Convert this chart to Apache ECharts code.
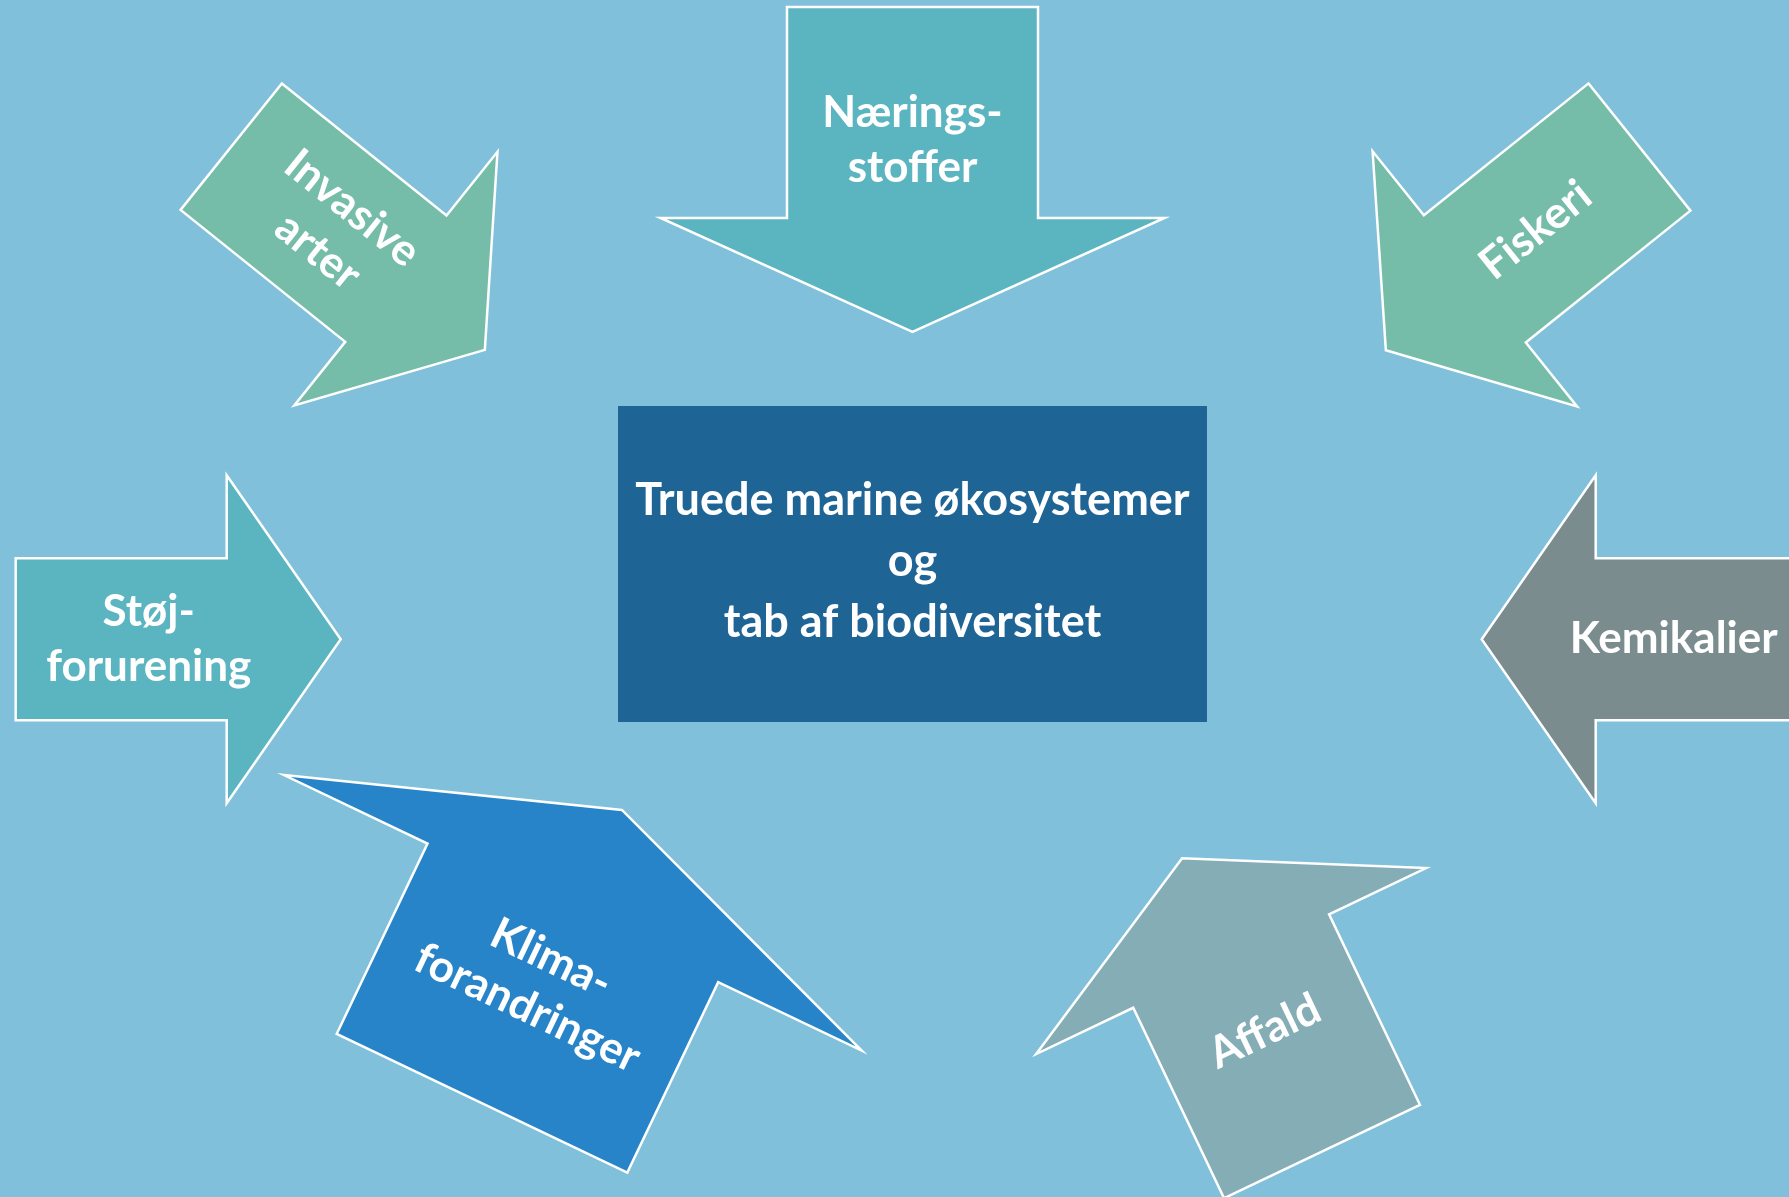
<!DOCTYPE html>
<html>
<head>
<meta charset="utf-8">
<title>Truede marine økosystemer</title>
<script src="https://cdn.jsdelivr.net/npm/echarts@6/dist/echarts.min.js"></script>
<style>
  html, body { margin: 0; padding: 0; background: #80c0db; }
  #chart { width: 1789px; height: 1197px; }
</style>
</head>
<body>
<div id="chart"></div>
<script>
// pressures pointing at the centre box, in the 1789 x 1197 picture space
const pressures = ['Nærings-\nstoffer', 'Invasive\narter', 'Fiskeri', 'Støj-\nforurening', 'Kemikalier', 'Klima-\nforandringer', 'Affald'];
const tailX = [912.5, 231.2, 1639.5, 15.7, 1806.7, 482, 1322];
const tailY = [7, 146.7, 147, 639.2, 639.2, 1103.3, 1151.5];
const headings = [90, 38.7, 141.3, 0, 180, -64.5, -115.5];
const shaftWidths = [251, 162, 163, 162, 162, 322, 217];
const headWidths = [504, 325, 327, 328, 328, 640, 432];
const labelTurn = [0, 38.7, -38.7, 0, 0, 25.5, -25.5];

const centreBox = [618, 406, 1207, 722];
const centreText = 'Truede marine økosystemer\nog\ntab af biodiversitet';

const shaftLength = 211;
const headLength = 114;
const labelAt = 133;
const arrowColors = ['#5ab5c1', '#75bda8', '#75bda8', '#5ab5c1', '#7a8c8e', '#2884c8', '#85adb6'];

const chart = echarts.init(document.getElementById('chart'));

const arrowData = pressures.map((name, i) => ({
  name,
  value: [tailX[i], tailY[i], headings[i], shaftWidths[i], headWidths[i], labelTurn[i]],
}));

function renderArrow(params, api) {
  const tx = api.value(0);
  const ty = api.value(1);
  const ang = (api.value(2) * Math.PI) / 180;
  const w1 = api.value(3);
  const w2 = api.value(4);
  const turn = api.value(5);
  const ux = Math.cos(ang);
  const uy = Math.sin(ang);
  const pt = (a, b) => api.coord([tx + ux * a - uy * b, ty + uy * a + ux * b]);
  const points = [
    pt(0, -w1 / 2),
    pt(shaftLength, -w1 / 2),
    pt(shaftLength, -w2 / 2),
    pt(shaftLength + headLength, 0),
    pt(shaftLength, w2 / 2),
    pt(shaftLength, w1 / 2),
    pt(0, w1 / 2),
  ];
  const mid = pt(labelAt, 0);
  return {
    type: 'group',
    children: [
      {
        type: 'polygon',
        shape: { points },
        style: { fill: arrowColors[params.dataIndex], stroke: '#ffffff', lineWidth: 2.5 },
      },
      {
        type: 'text',
        x: mid[0],
        y: mid[1],
        rotation: (-turn * Math.PI) / 180,
        style: {
          text: pressures[params.dataIndex],
          fill: '#ffffff',
          fontFamily: 'Lato',
          fontWeight: 'bold',
          fontSize: 44,
          lineHeight: 55,
          align: 'center',
          verticalAlign: 'middle',
        },
      },
    ],
  };
}

function renderBox(params, api) {
  const a = api.coord([api.value(0), api.value(1)]);
  const b = api.coord([api.value(2), api.value(3)]);
  return {
    type: 'group',
    children: [
      {
        type: 'rect',
        shape: { x: a[0], y: a[1], width: b[0] - a[0], height: b[1] - a[1] },
        style: { fill: '#1e6495' },
      },
      {
        type: 'text',
        x: (a[0] + b[0]) / 2,
        y: (a[1] + b[1]) / 2 - 3,
        style: {
          text: centreText,
          fill: '#ffffff',
          fontFamily: 'Lato',
          fontWeight: 'bold',
          fontSize: 45,
          lineHeight: 61,
          align: 'center',
          verticalAlign: 'middle',
        },
      },
    ],
  };
}

chart.setOption({
  backgroundColor: '#80c0db',
  animation: false,
  grid: { left: 0, right: 0, top: 0, bottom: 0 },
  xAxis: { type: 'value', min: 0, max: 1789, show: false },
  yAxis: { type: 'value', min: 0, max: 1197, inverse: true, show: false },
  series: [
    {
      type: 'custom',
      name: 'centre',
      renderItem: renderBox,
      data: [centreBox],
      silent: true,
    },
    {
      type: 'custom',
      name: 'pressures',
      renderItem: renderArrow,
      data: arrowData,
      silent: true,
    },
  ],
});
</script>
</body>
</html>
